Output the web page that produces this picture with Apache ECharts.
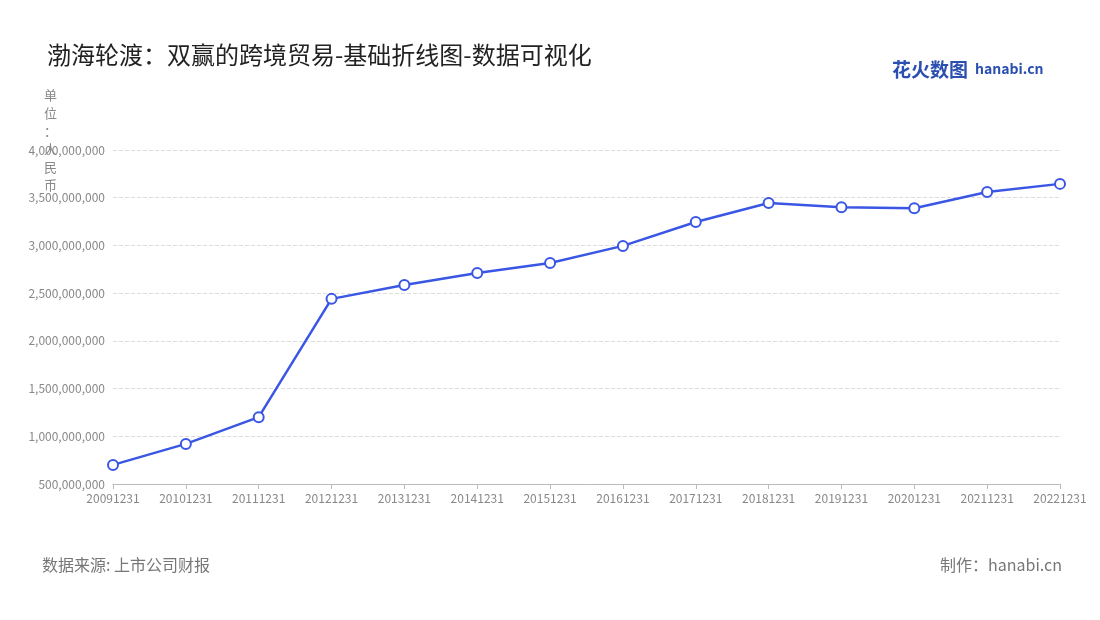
<!DOCTYPE html>
<html><head><meta charset="utf-8">
<script src="https://cdn.jsdelivr.net/npm/echarts@6/dist/echarts.min.js"></script>
<style>html,body{margin:0;padding:0;background:#fff}#c{width:1100px;height:620px}</style>
</head><body><div id="c"></div>
<script>
const categories = ['20091231','20101231','20111231','20121231','20131231','20141231','20151231','20161231','20171231','20181231','20191231','20201231','20211231','20221231'];
const values = [700000000,920000000,1200000000,2440000000,2585000000,2710000000,2815000000,2995000000,3245000000,3445000000,3400000000,3390000000,3560000000,3645000000];
const chart = echarts.init(document.getElementById('c'));
const ff = '"Noto Sans CJK SC","Noto Sans",sans-serif';
chart.setOption({
  textStyle:{fontFamily:ff},
  title:{text:'渤海轮渡：双赢的跨境贸易-基础折线图-数据可视化',left:42,top:38,textStyle:{fontSize:24,fontWeight:'normal',color:'#222',fontFamily:ff}},
  graphic:[
    {type:'text',left:42,top:557,style:{text:'数据来源: 上市公司财报',fontSize:16,fill:'#777',fontFamily:ff}},
    {type:'text',right:38,top:557,style:{text:'制作：hanabi.cn',fontSize:16,fill:'#777',fontFamily:ff}},
    {type:'text',left:892,top:60,style:{text:'花火数图',fontSize:19,fontWeight:'bold',fill:'#2a4fb0',fontFamily:ff}},
    {type:'text',left:975,top:62,style:{text:'hanabi.cn',fontSize:14,fontWeight:'bold',fill:'#2a4fb0',fontFamily:ff}},
    {type:'text',left:44,top:86,style:{text:'单\n位\n：\n人\n民\n币',fontSize:13,lineHeight:18,fill:'#888',fontFamily:ff}}
  ],
  grid:{left:113,right:40,top:150,bottom:136},
  xAxis:{type:'category',data:categories,boundaryGap:false,
    axisLine:{lineStyle:{color:'#bbb'}},axisTick:{show:true,lineStyle:{color:'#bbb'}},
    axisLabel:{color:'#888',fontSize:12,interval:0}},
  yAxis:{type:'value',min:500000000,max:4000000000,interval:500000000,
    axisLabel:{color:'#888',fontSize:12,formatter:v=>v.toLocaleString('en-US')},
    splitLine:{lineStyle:{type:'dashed',color:'#ddd'}},axisLine:{show:false},axisTick:{show:false}},
  series:[{type:'line',data:values,symbol:'circle',symbolSize:10,
    lineStyle:{color:'#3a56e4',width:2.5},
    itemStyle:{color:'#fff',borderColor:'#3a56e4',borderWidth:2}}]
});
</script></body></html>
